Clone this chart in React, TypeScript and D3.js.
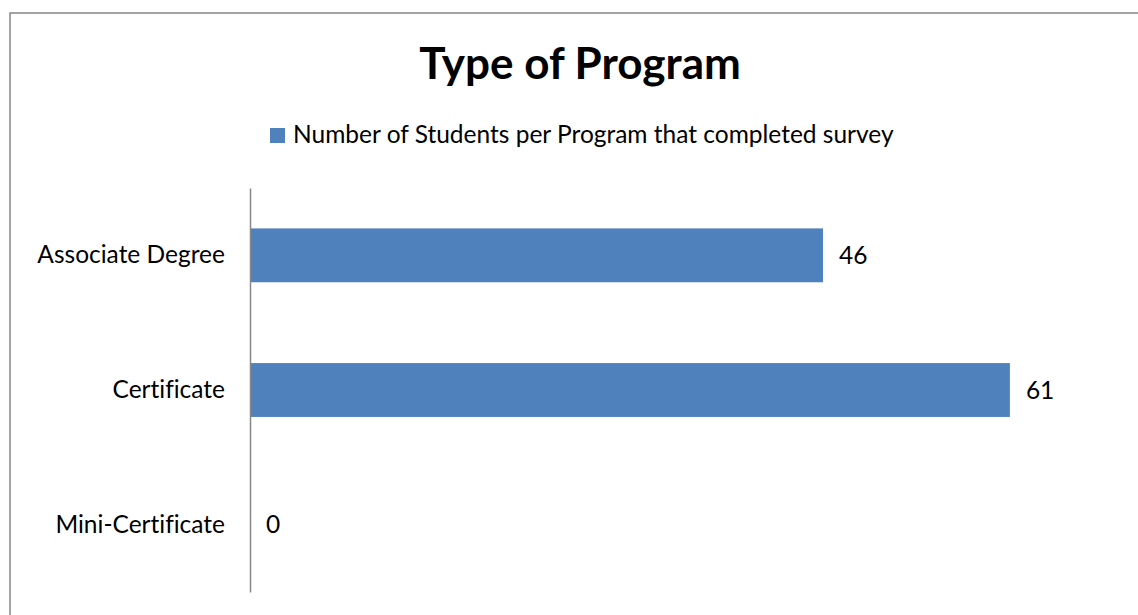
import React, { useEffect, useRef } from 'react';
import * as d3 from 'd3';

const categories = ['Associate Degree', 'Certificate', 'Mini-Certificate'];
const values = [46, 61, 0];
const seriesName = 'Number of Students per Program that completed survey';
const title = 'Type of Program';
const axisMax = 70;

const App = () => {
  const ref = useRef<SVGSVGElement>(null);

  useEffect(() => {
    const svg = d3.select(ref.current);
    svg.selectAll('*').remove();

    const width = 1138;
    const height = 615;
    const font = 'Lato, "Open Sans", sans-serif';
    const labelSize = 24.5;

    svg.style('font-variant-ligatures', 'none');

    // chart frame (runs off the right and bottom edge)
    svg
      .append('rect')
      .attr('x', 10)
      .attr('y', 13)
      .attr('width', width)
      .attr('height', height)
      .attr('fill', 'white')
      .attr('stroke', '#878787')
      .attr('stroke-width', 1.5);

    svg
      .append('text')
      .attr('x', 580)
      .attr('y', 79)
      .attr('text-anchor', 'middle')
      .attr('font-family', font)
      .attr('font-weight', 'bold')
      .attr('font-size', 44)
      .attr('fill', '#000')
      .text(title);

    // legend
    const legend = svg.append('g').attr('transform', 'translate(270, 128)');
    legend.append('rect').attr('width', 15).attr('height', 15).attr('fill', '#4f81bd');
    legend
      .append('text')
      .attr('x', 23)
      .attr('y', 15)
      .attr('font-family', font)
      .attr('font-size', labelSize)
      .attr('fill', '#000')
      .text(seriesName);

    const x = d3.scaleLinear().domain([0, axisMax]).range([250, 1122]);
    const y = d3
      .scaleBand()
      .domain(categories)
      .range([188, 592])
      .paddingInner(0.6)
      .paddingOuter(0.3);

    svg
      .append('g')
      .selectAll('rect')
      .data(values)
      .join('rect')
      .attr('x', x(0))
      .attr('y', (d, i) => y(categories[i])!)
      .attr('width', (d) => x(d) - x(0))
      .attr('height', y.bandwidth())
      .attr('fill', '#4f81bd');

    // value labels
    svg
      .append('g')
      .selectAll('text')
      .data(values)
      .join('text')
      .attr('x', (d) => x(d) + 16)
      .attr('y', (d, i) => y(categories[i])! + y.bandwidth() / 2)
      .attr('dy', '0.35em')
      .attr('font-family', font)
      .attr('font-size', labelSize)
      .attr('fill', '#000')
      .text((d) => d);

    // category axis
    const axis = svg
      .append('g')
      .attr('transform', `translate(${x(0)},0)`)
      .call(d3.axisLeft(y).tickSize(0).tickPadding(25));
    axis.select('.domain').attr('stroke', '#878787').attr('stroke-width', 1.5);
    axis
      .selectAll('text')
      .attr('font-family', font)
      .attr('font-size', labelSize)
      .attr('fill', '#000');
  }, []);

  return (
    <svg
      ref={ref}
      width={1138}
      height={615}
      style={{ position: 'absolute', left: 0, top: 0, display: 'block' }}
    />
  );
};

export default App;
